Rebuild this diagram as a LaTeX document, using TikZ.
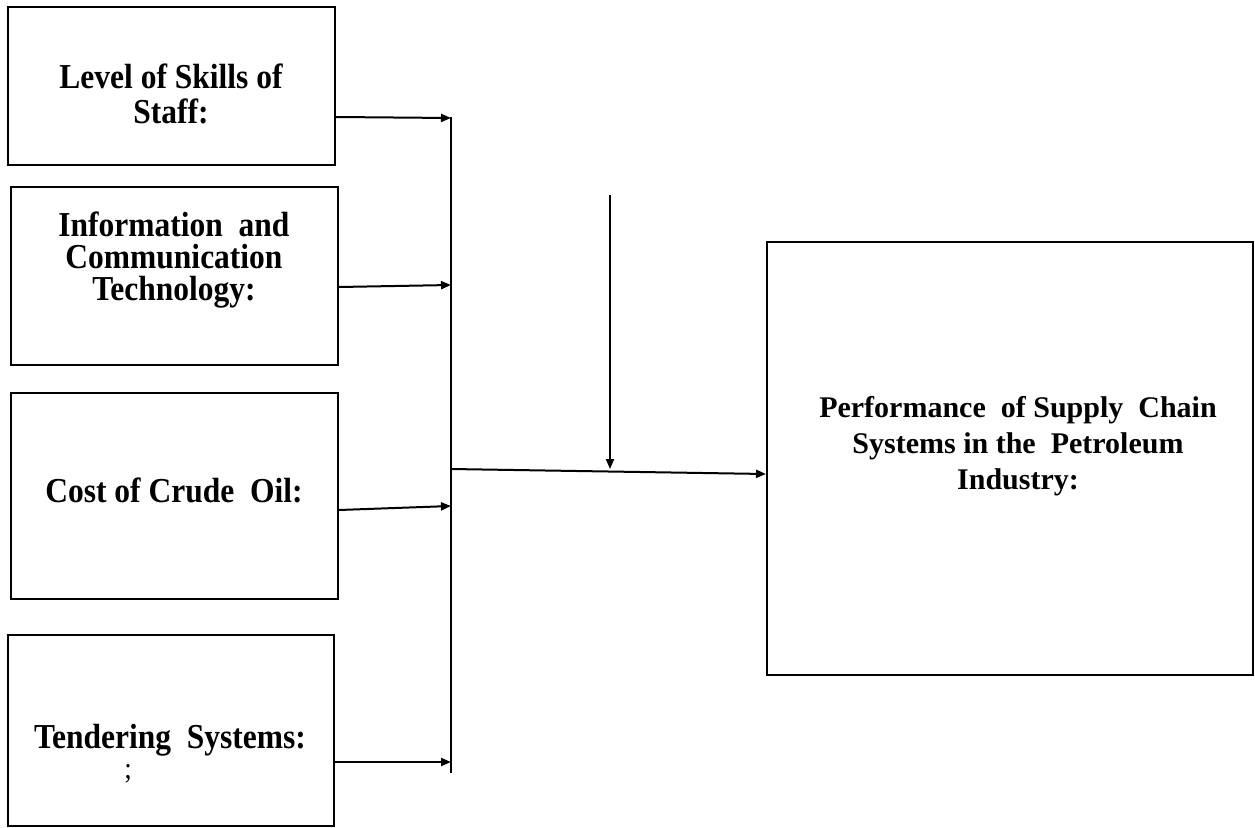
\documentclass[tikz,border=0pt]{standalone}
\usepackage{fontspec}
\setmainfont{Liberation Serif}
\newfontfamily\narrowserif{Liberation Serif}[FakeStretch=0.9]
\usetikzlibrary{arrows.meta}
\begin{document}
\begin{tikzpicture}[x=1pt,y=-1pt,
  box/.style={draw=black,line width=2pt,rectangle,inner sep=0pt},
  lbl/.style={align=center,inner sep=0pt,anchor=base,font=\narrowserif\bfseries\fontsize{35}{32}\selectfont},
  big/.style={align=center,inner sep=0pt,anchor=base,font=\bfseries\fontsize{30}{36}\selectfont},
  link/.style={line width=2pt,-{Triangle[length=10pt,width=8pt]}},
  bar/.style={line width=2pt}]
\useasboundingbox (0,0) rectangle (1255,827);

% factor boxes on the left
\node[box,minimum width=327pt,minimum height=158pt] (skills) at (171.5,86) {};
\node[box,minimum width=327pt,minimum height=178pt] (ict) at (174.5,276) {};
\node[box,minimum width=327pt,minimum height=206pt] (cost) at (174.5,496) {};
\node[box,minimum width=326pt,minimum height=191pt] (tender) at (171,730.5) {};

% outcome box on the right
\node[box,minimum width=486pt,minimum height=433pt] (perf) at (1010,458.5) {};

% box captions (anchored on the baseline of their last line)
\node[lbl,font=\narrowserif\bfseries\fontsize{35}{35}\selectfont] (tskills) at (171,123) {Level of Skills of\\Staff:};
\node[lbl] (tict) at (174,300) {Information\ \ and\\Communication\\Technology:};
\node[lbl] (tcost) at (174,502) {Cost of Crude\ \ Oil:};
\node[lbl] (ttender) at (170,748) {Tendering\ \ Systems:};
\node[lbl,font=\narrowserif\fontsize{30}{30}\selectfont] (tsemi) at (128,778) {;};
\node[big] (tperf) at (1018,489) {Performance\ \ of Supply\ \ Chain\\Systems in the\ \ Petroleum\\Industry:};

% collecting bus and junctions
\coordinate (busTop) at (451,117);
\coordinate (busBot) at (451,773);
\coordinate (j1) at (451,118);
\coordinate (j2) at (451,285);
\coordinate (j3) at (451,506);
\coordinate (j4) at (451,762);
\coordinate (jOut) at (451,469);
\coordinate (modTop) at (610,195);
\coordinate (modEnd) at (610,469);

\draw[bar] (busTop) -- (busBot);
\draw[link] (skills.east |- 0,117) -- (j1);
\draw[link] (ict.east |- 0,287) -- (j2);
\draw[link] (cost.east |- 0,510) -- (j3);
\draw[link] (tender.east |- 0,762) -- (j4);
\draw[link] (jOut) -- (perf.west |- 0,474);
\draw[link] (modTop) -- (modEnd);
\end{tikzpicture}
\end{document}
